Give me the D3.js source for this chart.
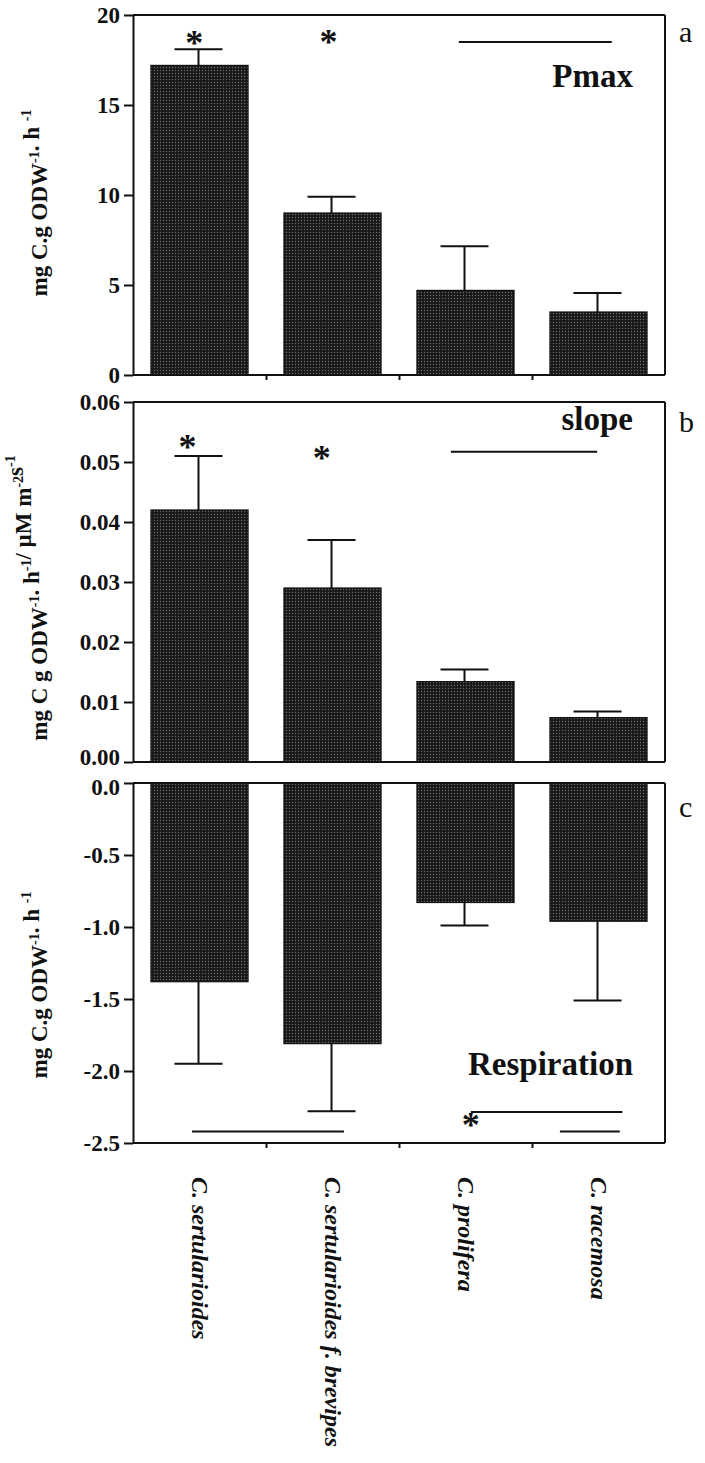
<!DOCTYPE html>
<html>
<head>
<meta charset="utf-8">
<script src="https://cdn.jsdelivr.net/npm/d3@7"></script>
<style>
  body { margin: 0; background: #fff; }
  svg { display: block; }
  text { font-family: "Liberation Serif", "Times New Roman", serif; fill: #111; }
</style>
</head>
<body>
<svg id="svg" width="705" height="1463"></svg>
<script>
// categories (x)
var categories = ["C. sertularioides", "C. sertularioides f. brevipes", "C. prolifera", "C. racemosa"];

// panel a: Pmax
var pmax = [17.2, 9.0, 4.7, 3.5];
var pmaxErr = [0.9, 0.9, 2.45, 1.05];
var pmaxTicks = [0, 5, 10, 15, 20];

// panel b: slope
var slope = [0.042, 0.029, 0.0134, 0.0074];
var slopeErr = [0.009, 0.008, 0.002, 0.001];
var slopeTicks = [0, 0.01, 0.02, 0.03, 0.04, 0.05, 0.06];

// panel c: respiration
var resp = [-1.38, -1.81, -0.83, -0.96];
var respErr = [0.57, 0.47, 0.16, 0.55];
var respTicks = [0, -0.5, -1.0, -1.5, -2.0, -2.5];

// significance marks: [from index, to index, value] and stars [index, value]
var pmaxLines = [[1.95, 3.10, 18.5]];
var pmaxStars = [[-0.04, 18.72], [0.97, 18.78]];
var slopeLines = [[1.89, 2.99, 0.0517]];
var slopeStars = [[-0.09, 0.0534], [0.92, 0.0515]];
var respLines = [[-0.056, 1.086, -2.42], [2.04, 3.18, -2.285], [2.71, 3.16, -2.42]];
var respStars = [[2.04, -2.34]];

var width = 705, height = 1463;
var left = 133, right = 665;

var svg = d3.select("svg");
svg.append("rect").attr("width", width).attr("height", height).attr("fill", "#fff");

// stipple fill like the printed bars
var defs = svg.append("defs");
var pat = defs.append("pattern").attr("id", "dots")
    .attr("width", 3).attr("height", 3).attr("patternUnits", "userSpaceOnUse");
pat.append("rect").attr("width", 3).attr("height", 3).attr("fill", "#181818");
pat.append("circle").attr("cx", 1.5).attr("cy", 1.5).attr("r", 0.7).attr("fill", "#6e6e6e");

var x = d3.scaleBand().domain(categories).range([left, right])
    .paddingInner(0.27).paddingOuter(0.135);
// fractional category index -> px (integer index = band centre)
var xi = d3.scaleLinear().domain([-0.5, categories.length - 0.5]).range([left, right]);

var hyphen = function(f){
    return function(d){ return f(d).replace("\u2212", "-"); };
};

var drawPanel = function(p){
    var y = d3.scaleLinear().domain(p.domain).range([p.bottom, p.top]);
    var g = svg.append("g");
    var base = y(0);

    g.selectAll("rect.bar")
        .data(p.values)
        .enter()
        .append("rect")
        .attr("class", "bar")
        .attr("x", function(d, i){ return x(categories[i]); })
        .attr("width", x.bandwidth())
        .attr("y", function(d){ return Math.min(y(d), base); })
        .attr("height", function(d){ return Math.abs(y(d) - base); })
        .attr("fill", "url(#dots)")
        .attr("stroke", "#111")
        .attr("stroke-width", 1.2);

    // error bars (away from zero)
    var eb = g.selectAll("g.err")
        .data(p.values)
        .enter()
        .append("g")
        .attr("class", "err");
    eb.append("line")
        .attr("x1", function(d, i){ return x(categories[i]) + x.bandwidth()/2 - 1; })
        .attr("x2", function(d, i){ return x(categories[i]) + x.bandwidth()/2 - 1; })
        .attr("y1", function(d){ return y(d); })
        .attr("y2", function(d, i){ return y(d + Math.sign(d)*p.errs[i]); })
        .attr("stroke", "#111").attr("stroke-width", 2);
    eb.append("line")
        .attr("x1", function(d, i){ return x(categories[i]) + x.bandwidth()/2 - 25; })
        .attr("x2", function(d, i){ return x(categories[i]) + x.bandwidth()/2 + 23; })
        .attr("y1", function(d, i){ return y(d + Math.sign(d)*p.errs[i]); })
        .attr("y2", function(d, i){ return y(d + Math.sign(d)*p.errs[i]); })
        .attr("stroke", "#111").attr("stroke-width", 2);

    // frame
    var top = y(p.domain[1]), bot = y(p.domain[0]);
    g.append("line").attr("x1", left).attr("x2", right).attr("y1", top).attr("y2", top)
        .attr("stroke", "#111").attr("stroke-width", 2);
    g.append("line").attr("x1", left).attr("x2", right).attr("y1", bot).attr("y2", bot)
        .attr("stroke", "#111").attr("stroke-width", 2);
    g.append("line").attr("x1", right).attr("x2", right).attr("y1", top).attr("y2", bot)
        .attr("stroke", "#111").attr("stroke-width", 2);

    var ax = g.append("g")
        .attr("transform", "translate(" + left + ",0)")
        .call(d3.axisLeft(y).tickValues(p.ticks).tickSize(9).tickSizeOuter(0)
              .tickPadding(4).tickFormat(hyphen(p.fmt)));
    ax.select(".domain").attr("stroke", "#111").attr("stroke-width", 2);
    ax.selectAll(".tick line").attr("stroke", "#111").attr("stroke-width", 2);
    ax.selectAll(".tick text")
        .style("font-family", "'Liberation Serif', serif")
        .style("font-weight", "bold")
        .style("font-size", "23px")
        .attr("fill", "#111");
    // the two zero labels between panels b and c sit very close: nudge apart
    if(p.zeroNudge){
        ax.selectAll(".tick text")
            .filter(function(d){ return d === 0; })
            .attr("dy", p.zeroNudge);
    }

    if(p.xticks){
        var xa = g.append("g")
            .attr("transform", "translate(0," + bot + ")")
            .call(d3.axisBottom(xi).tickValues([0.5, 1.5, 2.5]).tickSize(5).tickSizeOuter(0)
                  .tickFormat(""));
        xa.select(".domain").remove();
        xa.selectAll(".tick line").attr("stroke", "#111").attr("stroke-width", 2);
    }

    // significance lines and stars
    g.selectAll("line.sig")
        .data(p.lines)
        .enter()
        .append("line")
        .attr("class", "sig")
        .attr("x1", function(d){ return xi(d[0]); })
        .attr("x2", function(d){ return xi(d[1]); })
        .attr("y1", function(d){ return y(d[2]); })
        .attr("y2", function(d){ return y(d[2]); })
        .attr("stroke", "#111").attr("stroke-width", 2);
    g.selectAll("text.star")
        .data(p.stars)
        .enter()
        .append("text")
        .attr("class", "star")
        .attr("x", function(d){ return xi(d[0]); })
        .attr("y", function(d){ return y(d[1]); })
        .attr("dy", "0.47em")
        .attr("text-anchor", "middle")
        .style("font-size", "36px")
        .style("font-weight", "bold")
        .text("*");

    // panel name and letter
    g.append("text")
        .attr("x", 633).attr("y", p.nameY)
        .attr("text-anchor", "end")
        .style("font-size", "33px").style("font-weight", "bold")
        .text(p.name);
    g.append("text")
        .attr("x", 679).attr("y", p.letterY)
        .style("font-size", "30px")
        .text(p.letter);

    // y title
    var t = g.append("text")
        .attr("transform", "translate(47," + ((top + bot)/2 + p.titleShift) + ") rotate(-90)")
        .attr("text-anchor", "middle")
        .style("font-size", "23px").style("font-weight", "bold");
    p.title.forEach(function(s){
        t.append("tspan").text(s[0]);
        if(s[1]) t.append("tspan").attr("dy", -8).style("font-size", "14px").text(s[1])
            .clone().attr("dy", 8).style("font-size", "23px").text("");
    });
    return y;
};

drawPanel({
    values: pmax, errs: pmaxErr, domain: [0, 20], ticks: pmaxTicks,
    top: 15, bottom: 375, fmt: d3.format("d"), xticks: true,
    lines: pmaxLines, stars: pmaxStars,
    name: "Pmax", nameY: 87, letter: "a", letterY: 42, titleShift: 8,
    title: [["mg C.g ODW", "-1"], [". h ", "-1"]]
});

drawPanel({
    values: slope, errs: slopeErr, domain: [0, 0.06], ticks: slopeTicks,
    top: 402, bottom: 762, fmt: d3.format(".2f"), xticks: false,
    lines: slopeLines, stars: slopeStars, zeroNudge: "0.12em",
    name: "slope", nameY: 430, letter: "b", letterY: 432, titleShift: 16,
    title: [["mg C g ODW", "-1"], [". h", "-1"], ["/ \u00b5M m", "-2"], ["s", "-1"]]
});

drawPanel({
    values: resp, errs: respErr, domain: [-2.5, 0], ticks: respTicks,
    top: 783, bottom: 1143, fmt: d3.format(".1f"), xticks: true,
    lines: respLines, stars: respStars, zeroNudge: "0.5em",
    name: "Respiration", nameY: 1075, letter: "c", letterY: 817, titleShift: 22,
    title: [["mg C.g ODW", "-1"], [". h ", "-1"]]
});

// category labels, rotated
svg.selectAll("text.cat")
    .data(categories)
    .enter()
    .append("text")
    .attr("class", "cat")
    .attr("transform", function(d){ return "translate(" + (x(d) + x.bandwidth()/2) + ",1177) rotate(90)"; })
    .attr("dy", "0.3em")
    .style("font-size", "24px")
    .style("font-style", "italic")
    .style("font-weight", "bold")
    .text(function(d){ return d; });
</script>
</body>
</html>
